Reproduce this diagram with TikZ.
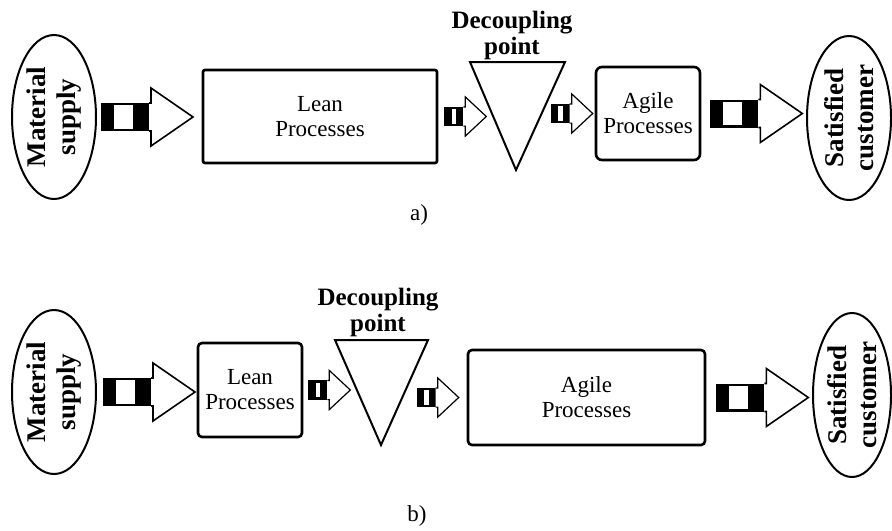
\documentclass[tikz,border=0pt]{standalone}
\usepackage{fontspec}
\setmainfont{Liberation Serif}
\usetikzlibrary{shapes.geometric}

\tikzset{
	endpt/.style={draw, ellipse, line width=1pt, minimum width=42pt, minimum height=82pt, inner sep=0pt},
	endtxt/.style={rotate=90, align=center, font=\bfseries\fontsize{13.5}{15}\selectfont},
	procbox/.style={draw, line width=1.3pt, rounded corners=2pt, align=center, inner sep=0pt, font=\fontsize{11.5}{12.5}\selectfont},
	dplbl/.style={align=center, font=\bfseries\fontsize{12.5}{13}\selectfont},
	sublbl/.style={font=\fontsize{11.5}{13}\selectfont},
	pics/bigarrow/.style={code={
		\fill (0,-7pt) rectangle (24pt,7pt);
		\fill[white] (6.5pt,-5.8pt) rectangle (16pt,5.8pt);
		\draw[line width=0.8pt, fill=white, line join=miter] (24pt,7pt) -- (25pt,7pt) -- (25pt,14.5pt) -- (46pt,0) -- (25pt,-14.5pt) -- (25pt,-7pt) -- (24pt,-7pt);
	}},
	pics/smallarrow/.style={code={
		\fill (0,-4.8pt) rectangle (9.5pt,4.8pt);
		\fill[white] (3.6pt,-3.6pt) rectangle (6pt,3.6pt);
		\draw[line width=0.6pt, fill=white] (9.5pt,4.8pt) -- (10.5pt,4.8pt) -- (10.5pt,9.8pt) -- (21pt,0) -- (10.5pt,-9.8pt) -- (10.5pt,-4.8pt) -- (9.5pt,-4.8pt);
	}}
}

\begin{document}
\begin{tikzpicture}[x=0.5pt, y=-0.5pt]
\useasboundingbox (0,0) rectangle (892,530);

% a)
\node[endpt] (msa) at (54,117) {};
\node[endtxt] at (msa) {Material\\supply};
\node[procbox, rounded corners=1pt, minimum width=117pt, minimum height=46.5pt] (leana) at (320,116.5) {Lean\\Processes};
\node[procbox, rounded corners=3pt, minimum width=52pt, minimum height=46.5pt] (agilea) at (648,113.5) {Agile\\Processes};
\node[endpt] (sca) at (849,118) {};
\node[endtxt] at (sca) {Satisfied\\customer};
\draw[line width=1pt] (470,62) coordinate (dpa1) -- (565,62) coordinate (dpa2) -- (516,170) coordinate (dpa3) -- cycle;
\node[dplbl] (dpa) at (512,35) {Decoupling\\point};
\pic at ([xshift=2pt]msa.east) {bigarrow};
\pic at ([xshift=3pt]leana.east) {smallarrow};
\pic at ([xshift=-22pt]agilea.west) {smallarrow};
\pic at ([xshift=4.5pt]agilea.east) {bigarrow};
\node[sublbl] (capa) at (419,215) {a)};

% b)
\node[endpt] (msb) at (54,392) {};
\node[endtxt] at (msb) {Material\\supply};
\node[procbox, minimum width=52pt, minimum height=47pt] (leanb) at (250,390) {Lean\\Processes};
\node[procbox, minimum width=118.5pt, minimum height=47.5pt] (agileb) at (586.5,397.5) {Agile\\Processes};
\node[endpt, minimum width=39pt] (scb) at (852,395) {};
\node[endtxt] at (scb) {Satisfied\\customer};
\draw[line width=1pt] (335,340) coordinate (dpb1) -- (428,340) coordinate (dpb2) -- (381,445) coordinate (dpb3) -- cycle;
\node[dplbl] (dpb) at (378,312) {Decoupling\\point};
\pic at ([xshift=3pt]msb.east) {bigarrow};
\pic at ([xshift=2.5pt]leanb.east) {smallarrow};
\pic at ([xshift=-25pt]agileb.west) {smallarrow};
\pic at ([xshift=5pt]agileb.east) {bigarrow};
\node[sublbl] (capb) at (417,516) {b)};
\end{tikzpicture}
\end{document}
